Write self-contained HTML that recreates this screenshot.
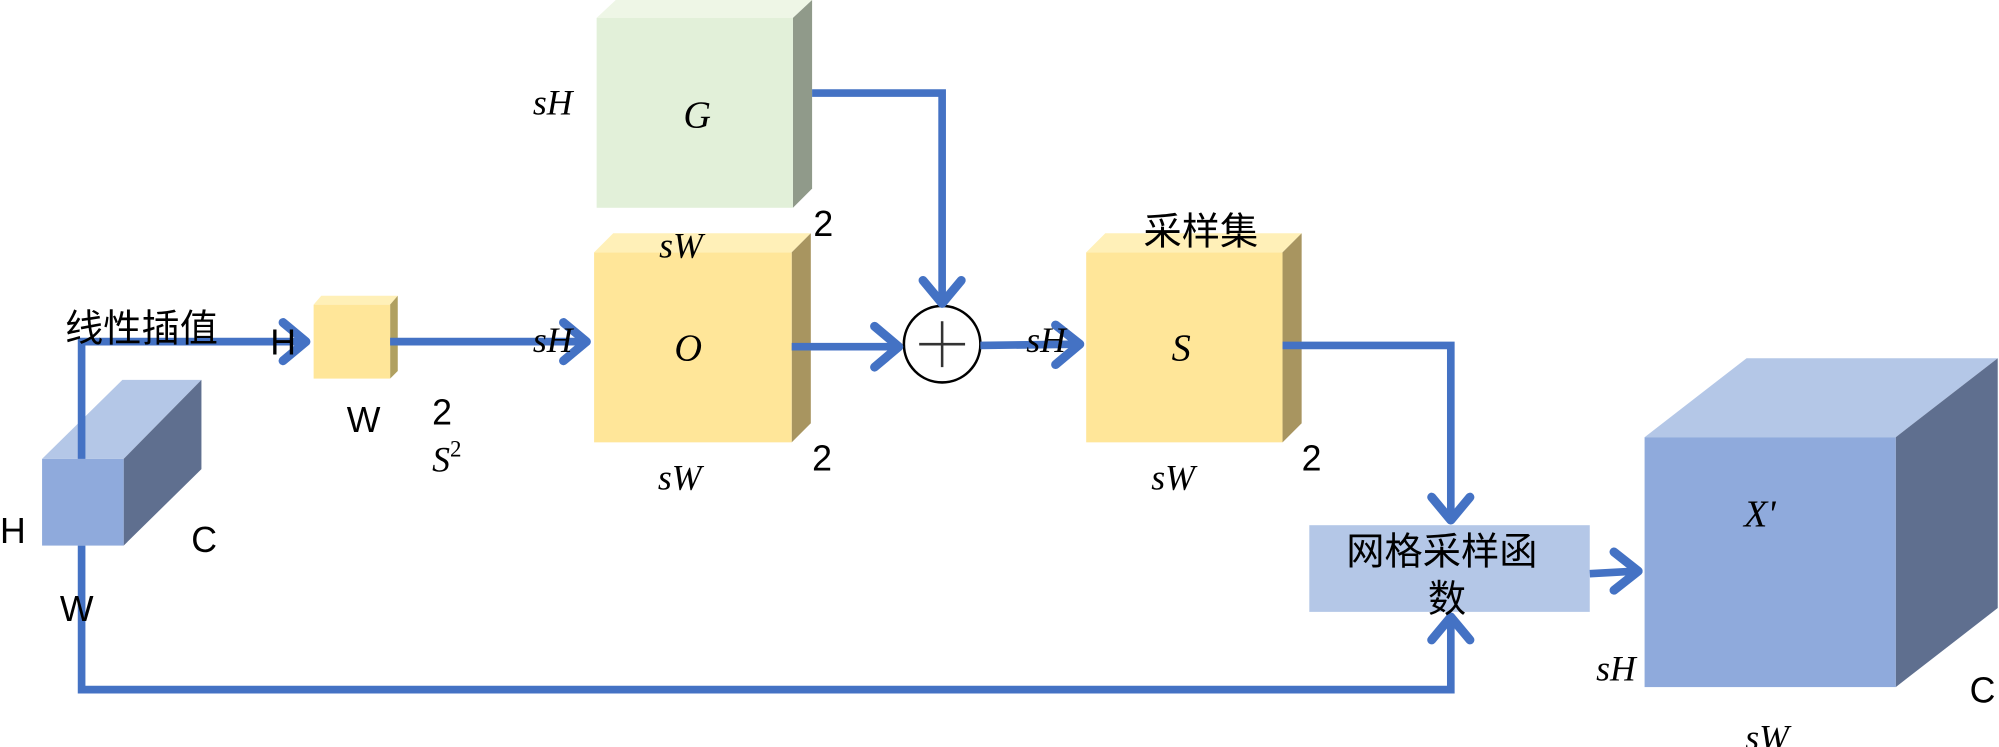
<!DOCTYPE html>
<html><head><meta charset="utf-8"><style>
html,body{margin:0;padding:0;background:#fff;}
svg{display:block;}
.t{font-family:"Liberation Sans","Noto Sans CJK SC",sans-serif;fill:#000;}
.m{font-family:"Liberation Serif","DejaVu Serif",serif;font-style:italic;fill:#000;}
</style></head><body>
<svg width="1999" height="747" viewBox="0 0 1568 586" preserveAspectRatio="none" xmlns="http://www.w3.org/2000/svg">
<!-- X cube -->
<polygon points="33,360 97,360 158,298 96,298" fill="#b4c7e7"/>
<polygon points="97,360 158,298 158,368 97,428" fill="#5f6f8f"/>
<rect x="33" y="360" width="64" height="68" fill="#8faadc"/>
<!-- small yellow -->
<polygon points="246,239 306,239 312,232 252,232" fill="#fff0b8"/>
<polygon points="306,239 312,232 312,291 306,297" fill="#b0a060"/>
<rect x="246" y="239" width="60" height="58" fill="#ffe699"/>
<!-- G -->
<polygon points="468,14 622,14 637,0 483,0" fill="#eef6e6"/>
<polygon points="622,14 637,0 637,148 622,163" fill="#909a8a"/>
<rect x="468" y="14" width="154" height="149" fill="#e2f0d9"/>
<!-- O -->
<polygon points="466,198 621,198 636,183 481,183" fill="#fff0b8"/>
<polygon points="621,198 636,183 636,332 621,347" fill="#a89560"/>
<rect x="466" y="198" width="155" height="149" fill="#ffe699"/>
<!-- S -->
<polygon points="852,198 1006,198 1021,183 867,183" fill="#fff0b8"/>
<polygon points="1006,198 1021,183 1021,332 1006,347" fill="#a89560"/>
<rect x="852" y="198" width="154" height="149" fill="#ffe699"/>
<!-- X' -->
<polygon points="1290,343 1487,343 1567,281 1370,281" fill="#b4c7e7"/>
<polygon points="1487,343 1567,281 1567,477 1487,539" fill="#5f6f8f"/>
<rect x="1290" y="343" width="197" height="196" fill="#8faadc"/>
<!-- grid box -->
<rect x="1027" y="412" width="220" height="68" fill="#b4c7e7"/>
<!-- circle -->
<circle cx="739" cy="270" r="30" fill="#fff" stroke="#000" stroke-width="2"/>
<line x1="721" y1="270" x2="757" y2="270" stroke="#333" stroke-width="2"/>
<line x1="739" y1="252" x2="739" y2="288" stroke="#333" stroke-width="2"/>
<!-- connectors -->
<g fill="none" stroke="#4472c4" stroke-width="6" stroke-linejoin="miter">
<polyline points="64,360 64,268 240,268"/>
<polyline points="306,268 460,268"/>
<polyline points="621,272 704,272"/>
<polyline points="769,271 846,270"/>
<polyline points="637,73 739,73 739,236"/>
<polyline points="1006,271 1138,271 1138,406"/>
<polyline points="64,428 64,541 1138,541 1138,486"/>
<polyline points="1247,450 1284,448"/>
</g>
<g fill="none" stroke="#4472c4" stroke-width="7" stroke-linecap="round" stroke-linejoin="round">
<polyline points="222,253 240,268 222,283"/>
<polyline points="442,253 460,268 442,283"/>
<polyline points="686,256 705,272 686,288"/>
<polyline points="828,255 847,270 828,286"/>
<polyline points="724,220 739,238 754,220"/>
<polyline points="1123,390 1138,408 1153,390"/>
<polyline points="1123,502 1138,484 1153,502"/>
<polyline points="1266,433 1285,448 1266,463"/>
</g>
<!-- labels -->
<text class="t" x="51" y="268" font-size="30">线性插值</text>
<text class="t" x="212" y="278" font-size="28">H</text>
<text class="t" x="272" y="339" font-size="28">W</text>
<text class="t" x="339" y="333" font-size="28">2</text>
<text class="m" x="339" y="370" font-size="28">S<tspan font-style="normal" font-size="18" dy="-12">2</tspan></text>
<text class="t" x="0" y="426" font-size="28">H</text>
<text class="t" x="150" y="433" font-size="28">C</text>
<text class="t" x="47" y="487" font-size="28">W</text>
<text class="m" x="418" y="90" font-size="28">sH</text>
<text class="m" x="536" y="100" font-size="30">G</text>
<text class="t" x="638" y="185" font-size="28">2</text>
<text class="m" x="517" y="202" font-size="28">sW</text>
<text class="m" x="418" y="276" font-size="28">sH</text>
<text class="m" x="529" y="283" font-size="30">O</text>
<text class="m" x="516" y="384" font-size="28">sW</text>
<text class="t" x="637" y="369" font-size="28">2</text>
<text class="t" x="897" y="192" font-size="30">采样集</text>
<text class="m" x="805" y="276" font-size="28">sH</text>
<text class="m" x="919" y="283" font-size="30">S</text>
<text class="m" x="903" y="384" font-size="28">sW</text>
<text class="t" x="1021" y="369" font-size="28">2</text>
<text class="t" x="1056" y="443" font-size="30">网格采样函</text>
<text class="t" x="1120" y="480" font-size="30">数</text>
<text class="m" x="1368" y="413" font-size="30">X'</text>
<text class="m" x="1252" y="534" font-size="28">sH</text>
<text class="t" x="1545" y="551" font-size="28">C</text>
<text class="m" x="1369" y="588" font-size="28">sW</text>
</svg>
</body></html>
